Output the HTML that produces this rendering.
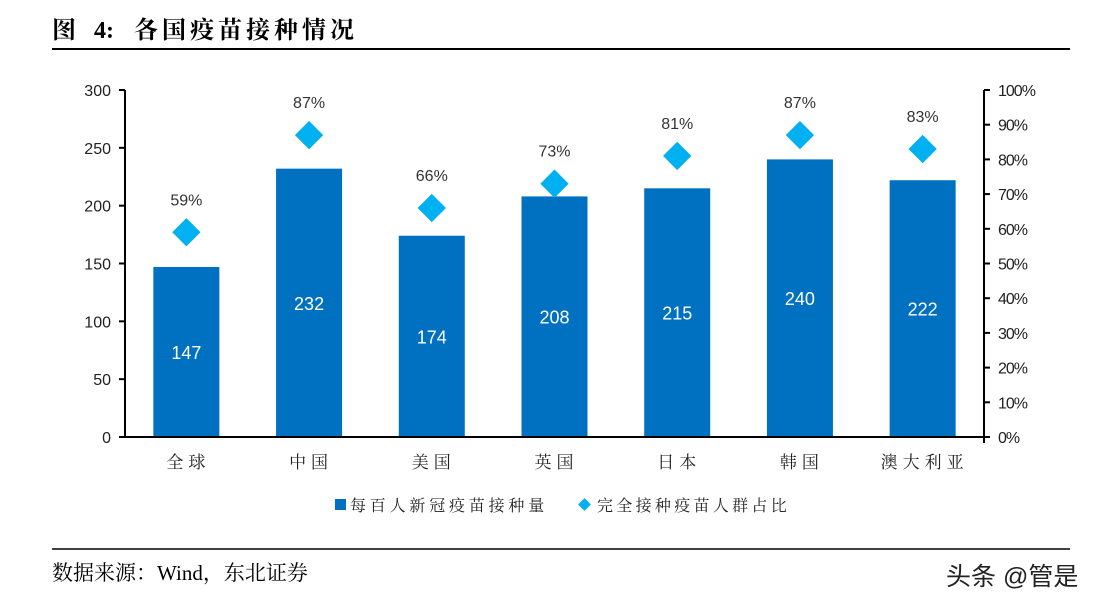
<!DOCTYPE html>
<html><head><meta charset="utf-8"><style>
body{margin:0;background:#fff;width:1111px;height:608px;overflow:hidden}
svg text{font-family:"Liberation Sans","Noto Sans CJK SC",sans-serif}
.serif{font-family:"Liberation Serif","Noto Serif CJK SC",serif}
</style></head><body>
<svg id="c" width="1111" height="608">
<g>
<text class="serif" x="52" y="38" font-size="24" font-weight="bold" fill="#000">图</text>
<text class="serif" x="94" y="38" font-size="24" font-weight="bold" fill="#000">4:</text>
<text class="serif" x="134" y="38" font-size="24" font-weight="bold" fill="#000" letter-spacing="4">各国疫苗接种情况</text>
</g>
<line x1="52" y1="49" x2="1070" y2="49" stroke="#000" stroke-width="2"/>
<line x1="52" y1="549" x2="1070" y2="549" stroke="#000" stroke-width="1.5"/>
<text class="serif" x="52" y="580" font-size="21" fill="#000">数据来源：Wind，东北证券</text>
<text x="946" y="585" font-size="25" fill="#222">头条 @管是</text>
<g id="plot"></g>
</svg>
<script>
const categories=["全球","中国","美国","英国","日本","韩国","澳大利亚"];
const doses=[147,232,174,208,215,240,222];
const fullPct=[59,87,66,73,81,87,83];
const leftTicks=[0,50,100,150,200,250,300];
const rightTicks=[0,10,20,30,40,50,60,70,80,90,100];
const X0=125,X1=984,Y0=437,Y1=90;
const band=(X1-X0)/categories.length;
const xc=i=>X0+band*(i+0.5);
const yL=v=>Y0-(v/300)*(Y0-Y1);
const yR=v=>Y0-(v/100)*(Y0-Y1);
const g=document.getElementById('plot');const NS="http://www.w3.org/2000/svg";
function mk(t,a,txt){const e=document.createElementNS(NS,t);for(const k in a)e.setAttribute(k,a[k]);if(txt!=null)e.textContent=txt;g.appendChild(e);return e;}
categories.forEach((c,i)=>{
 const b=mk('rect',{x:xc(i)-33,y:yL(doses[i]),width:66,height:Y0-yL(doses[i]),fill:'#0070C0'});
 
 
 const bl=mk('text',{x:xc(i),y:(yL(doses[i])+Y0)/2+7,'font-size':18,fill:'#fff','text-anchor':'middle'},String(doses[i]));
 
 
 const py=yR(fullPct[i]);
 const d=mk('rect',{x:xc(i)-10,y:py-10,width:20,height:20,fill:'#00B0F0',transform:`rotate(45 ${xc(i)} ${py})`});
 
 
 const dl=mk('text',{x:xc(i),y:py-27,'font-size':16,fill:'#333','text-anchor':'middle'},fullPct[i]+'%');
 
 
 const cl=mk('text',{x:xc(i)+2,y:468,'font-size':17,fill:'#222','text-anchor':'middle','letter-spacing':'5',class:'serif'},c);
 
 
});
const ax=[[X0,Y1,X0,Y0],[X1,Y1,X1,Y0+6],[X0,Y0,X1,Y0]];
ax.forEach(a=>{const l=mk('line',{x1:a[0],y1:a[1],x2:a[2],y2:a[3],stroke:'#000','stroke-width':2});
 
 });
leftTicks.forEach(v=>{const y=yL(v);
 const t=mk('line',{x1:X0-6,y1:y,x2:X0,y2:y,stroke:'#000','stroke-width':2});
 
 
 const l=mk('text',{x:X0-14,y:y+6,'font-size':16,fill:'#222','text-anchor':'end'},String(v));
 
 });
rightTicks.forEach(v=>{const y=yR(v);
 const t=mk('line',{x1:X1,y1:y,x2:X1+6,y2:y,stroke:'#000','stroke-width':2});
 
 
 const l=mk('text',{x:X1+14,y:y+6,'font-size':16,fill:'#222','letter-spacing':'-1'},v+'%');
 
 });
const lg1=mk('rect',{x:335,y:499,width:11,height:11,fill:'#0070C0'});


const lt1=mk('text',{x:350,y:511,'font-size':16,fill:'#222',class:'serif','letter-spacing':'3.8'},'每百人新冠疫苗接种量');


const lg2=mk('rect',{x:580,y:500,width:9,height:9,fill:'#00B0F0',transform:'rotate(45 584.5 504.5)'});


const lt2=mk('text',{x:597,y:511,'font-size':16,fill:'#222',class:'serif','letter-spacing':'3.3'},'完全接种疫苗人群占比');


</script>
</body></html>
